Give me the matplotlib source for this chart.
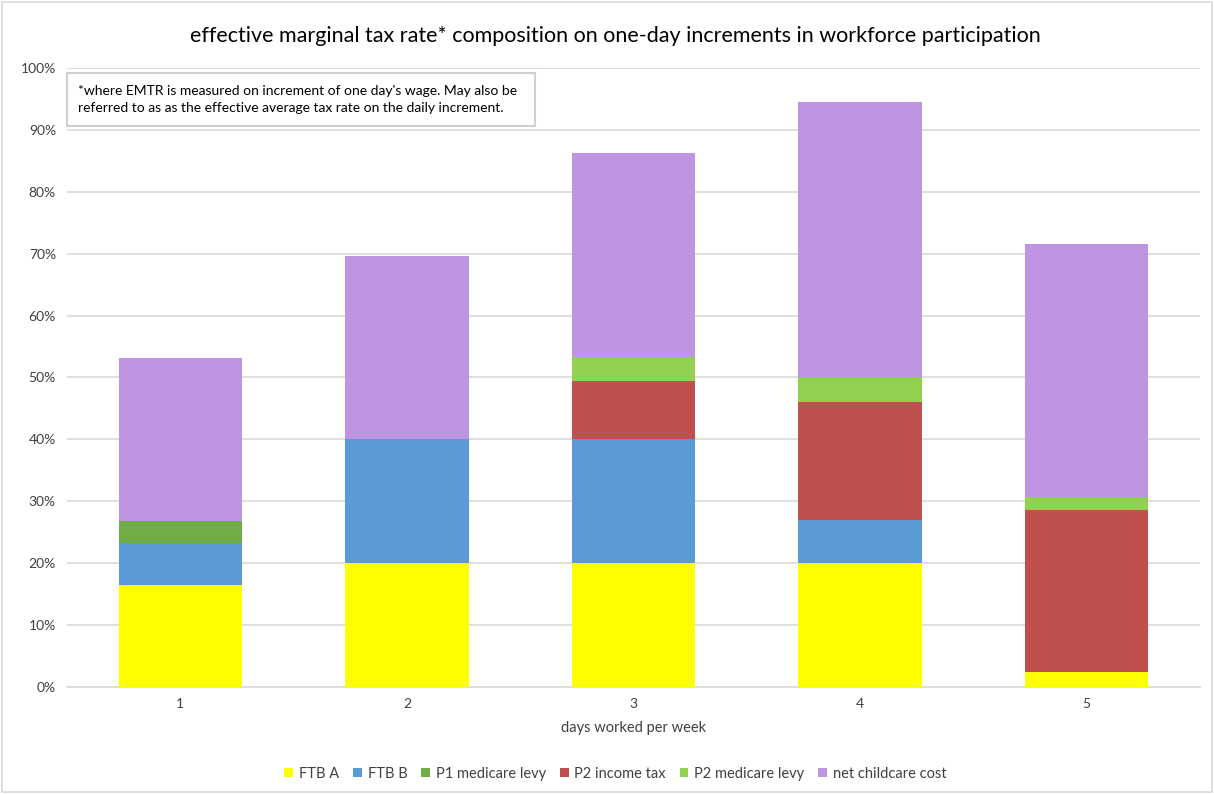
import matplotlib
matplotlib.use("Agg")
import matplotlib.pyplot as plt
from matplotlib.patches import Rectangle

plt.rcParams['font.family'] = ['Lato', 'DejaVu Sans']

days = ["1", "2", "3", "4", "5"]
series_names = ["FTB A", "FTB B", "P1 medicare levy", "P2 income tax",
                "P2 medicare levy", "net childcare cost"]
ftb_a = [16.4, 20.0, 20.0, 20.0, 2.4]
ftb_b = [6.8, 20.0, 20.0, 7.0, 0.0]
p1_medicare = [3.6, 0.0, 0.0, 0.0, 0.0]
p2_income_tax = [0.0, 0.0, 9.4, 19.0, 26.2]
p2_medicare = [0.0, 0.0, 3.9, 4.0, 2.1]
net_childcare = [26.4, 29.6, 33.0, 44.5, 40.9]
colors = ["#ffff00", "#5b9bd5", "#70ad47", "#c0504d", "#92d050", "#bf94e0"]

fig = plt.figure(figsize=(12.14, 7.94), dpi=100)
ax = fig.add_axes([0.0552, 0.1348, 0.9333, 0.7796])

x = list(range(1, len(days) + 1))
bottom = [0.0] * len(days)
for name, vals, c in zip(series_names,
                         [ftb_a, ftb_b, p1_medicare, p2_income_tax, p2_medicare, net_childcare],
                         colors):
    v = [val / 100 for val in vals]
    ax.bar(x, v, width=0.545, bottom=bottom, color=c, label=name, zorder=3)
    bottom = [b + vv for b, vv in zip(bottom, v)]

ax.set_xlim(0.5, 5.5)
ax.set_ylim(0, 1.0)
ax.set_yticks([i / 10 for i in range(11)])
ax.set_yticklabels([f"{i * 10}%" for i in range(11)])
ax.set_xticks(x)
ax.set_xticklabels(days)
ax.tick_params(axis='both', length=0, labelsize=10, colors="#404040", pad=8)
ax.yaxis.grid(True, color="#d9d9d9", linewidth=1.2, zorder=0)
for s in ["top", "right", "left"]:
    ax.spines[s].set_visible(False)
ax.spines["bottom"].set_color("#d9d9d9")
ax.spines["bottom"].set_linewidth(1.2)
ax.set_xlabel("days worked per week", fontsize=10.5, color="#404040", labelpad=8)

fig.text(0.507, 0.955, "effective marginal tax rate* composition on one-day increments in workforce participation",
         ha="center", va="center", fontsize=15.5, color="#000000")

# note box
box = Rectangle((67 / 1214, 1 - 126 / 794), (535 - 67) / 1214, (126 - 73) / 794,
                transform=fig.transFigure, facecolor="white", edgecolor="#d0d0d0",
                linewidth=1.5, zorder=5)
fig.add_artist(box)
fig.text(78 / 1214, 1 - 99.5 / 794,
         "*where EMTR is measured on increment of one day's wage. May also be\n"
         "referred to as as the effective average tax rate on the daily increment.",
         ha="left", va="center", fontsize=10, color="#000000", linespacing=1.45, zorder=6)

fig.legend(loc="center", bbox_to_anchor=(0.507, 1 - 774 / 794), ncol=6, frameon=False,
           fontsize=10.5, handlelength=0.6, handleheight=0.6, handletextpad=0.4,
           columnspacing=0.95, labelcolor="#404040")

border = Rectangle((0.002, 0.002), 0.996, 0.996, transform=fig.transFigure,
                   fill=False, edgecolor="#d9d9d9", linewidth=1.2)
fig.add_artist(border)

fig.savefig("out.png", dpi=100)
